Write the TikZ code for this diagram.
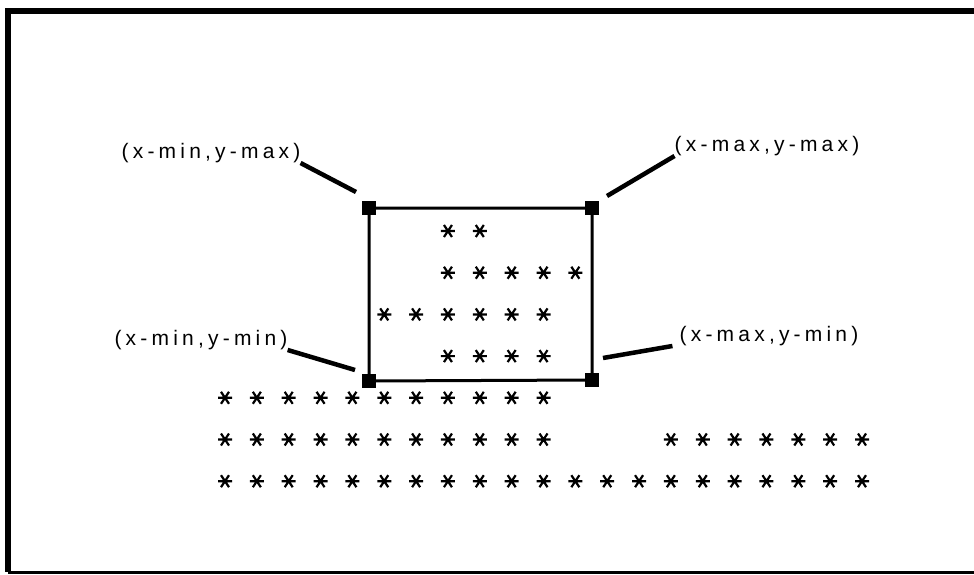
\documentclass[tikz,border=0pt]{standalone}
\usepackage{fontspec}
\newfontfamily\lblfont{Liberation Sans}[LetterSpace=20]
\begin{document}
\begin{tikzpicture}[
        x=1pt, y=-1pt,
        corner/.style={rectangle, fill=black, minimum size=14pt, inner sep=0pt},
        coordlabel/.style={inner sep=0pt, font=\lblfont\fontsize{21}{24}\selectfont},
        frame/.style={line width=6pt},
        boxline/.style={line width=3pt},
        leader/.style={line width=4.5pt},
        aster/.pic={\draw[line width=2.2pt] (-7,0) -- (7,0) (-4,-6) -- (4,6) (-4,6) -- (4,-6);}
    ]
    \useasboundingbox (0,0) rectangle (974,575);

    % Frame
    \draw [frame] (974,11) -- (8,11) -- (8,572);
    \draw [line width=3pt] (8,572) -- (974,572);

    % Corners of the window
    \node (cTL) [corner] at (369,208) {};
    \node (cTR) [corner] at (592,208) {};
    \node (cBL) [corner] at (369,381) {};
    \node (cBR) [corner] at (592,380) {};
    \draw [boxline] (cTL) -- (cTR) -- (cBR) -- (cBL) -- (cTL);

    % Labels
    \node (lblTL) [coordlabel] at (211,153) {(x-min,y-max)};
    \node (lblBL) [coordlabel] at (201,340) {(x-min,y-min)};
    \node (lblTR) [coordlabel] at (767,146) {(x-max,y-max)};
    \node (lblBR) [coordlabel] at (769,336) {(x-max,y-min)};

    \coordinate (tipTL) at (356,192);
    \coordinate (tipBL) at (355,370);
    \coordinate (tipTR) at (607,196);
    \coordinate (tipBR) at (603,358);

    \draw [leader] (lblTL.south east) -- (tipTL);
    \draw [leader] (lblBL.south east) -- (tipBL);
    \draw [leader] (lblTR.south west) -- (tipTR);
    \draw [leader] ([xshift=-7pt]lblBR.south west) -- (tipBR);

    % Points
    \foreach \r/\cl in {0/{7,8}, 1/{7,...,11}, 2/{5,...,10}, 3/{7,...,10},
                        4/{0,...,10}, 5/{0,...,10}, 5/{14,...,20}, 6/{0,...,20}}
        \foreach \c in \cl
            \pic at (225+31.85*\c, 231+41.7*\r) {aster};

\end{tikzpicture}
\end{document}
